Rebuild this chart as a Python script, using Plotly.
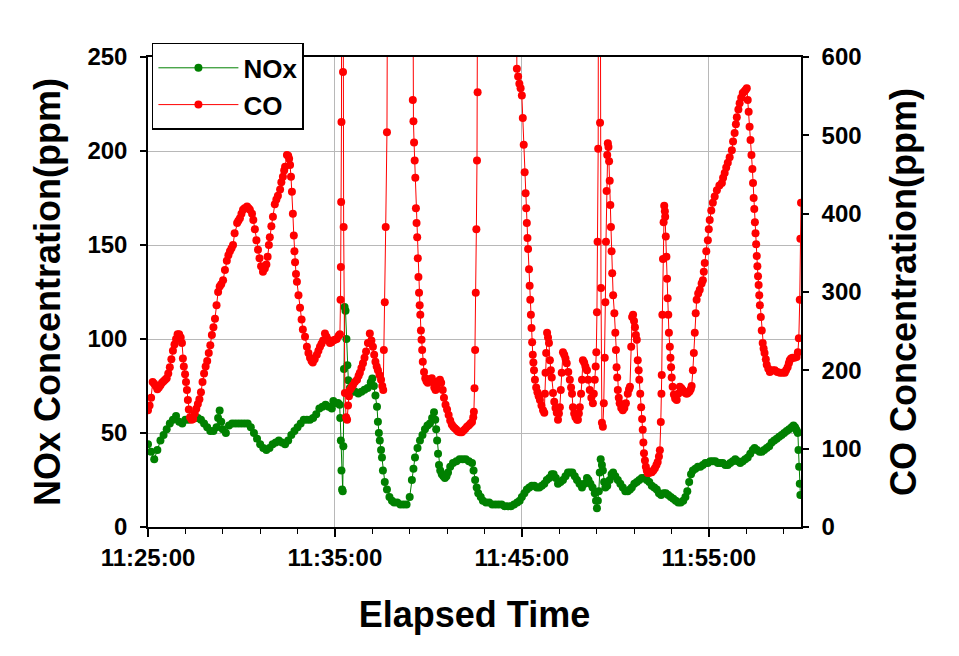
import pandas as pd
import plotly.graph_objects as go

# ---- data: seconds after 11:25:00, values in ppm ----
nox_t = [0,10,20,30,40,50,60,70,80,90,100,110,120,130,140,150,160,170,180,190,200,210,220,225,230,235,240,250,260,270,280,290,300,310,320,330,340,350,360,370,380,390,400,410,420,430,440,450,460,470,480,490,500,510,520,530,540,550,560,570,580,590,595,600,610,615,617,619,621,623,625,627,629,631,634,637,640,643,648,655,665,675,685,695,705,715,720,725,730,735,738,741,744,748,751,754,760,767,775,783,790,800,810,820,830,840,847,852,857,865,873,881,889,897,905,912,918,922,925,928,931,934,938,943,948,953,958,963,970,979,990,1000,1010,1020,1030,1040,1045,1050,1055,1060,1068,1075,1085,1095,1105,1115,1125,1135,1145,1155,1165,1175,1185,1193,1200,1208,1216,1224,1232,1240,1248,1256,1264,1272,1280,1288,1296,1302,1309,1316,1324,1332,1340,1348,1355,1362,1370,1377,1385,1393,1401,1409,1414,1420,1427,1434,1438,1441,1444,1447,1450,1453,1457,1460,1464,1468,1474,1482,1488,1493,1500,1508,1516,1524,1532,1540,1547,1553,1561,1569,1577,1585,1593,1601,1609,1617,1625,1633,1640,1647,1655,1662,1670,1678,1686,1694,1702,1710,1718,1725,1731,1737,1743,1749,1757,1765,1773,1781,1789,1797,1805,1813,1821,1829,1837,1845,1853,1861,1869,1877,1885,1893,1901,1909,1917,1925,1933,1941,1947,1955,1963,1970,1978,1986,1994,2002,2010,2018,2026,2034,2042,2050,2058,2066,2072,2077,2080,2083,2086,2088,2090,2092,2094]
nox_v = [44,40,36,41,46,49,52,55,57,59,56,55,57,57,58,58,58,57,55,53,51,51,53,58,62,56,52,50,54,55,55,55,55,55,55,53,50,47,44,42,41,42,44,45,46,45,44,46,49,51,53,55,57,57,57,58,60,63,64,65,64,63,67,66,66,65,58,46,30,20,19,43,84,117,115,100,86,78,74,72,72,71,72,73,74,77,79,75,70,64,56,50,46,41,37,30,24,20,16,14,13,13,12,12,12,16,25,31,37,42,46,49,52,54,55,58,61,57,52,46,39,33,30,28,27,26,27,29,32,34,35,36,36,36,35,34,30,25,21,18,16,14,13,13,12,12,12,12,11,11,11,12,13,14,16,18,20,21,22,22,21,21,22,23,25,26,28,28,26,23,24,25,27,29,29,29,27,25,23,21,23,26,25,23,21,18,14,10,14,19,29,36,33,30,24,21,22,25,28,29,27,25,23,21,19,19,20,21,23,24,25,26,26,25,24,22,21,20,18,17,18,18,17,16,15,14,13,13,14,16,19,24,28,30,31,32,32,33,34,34,35,35,35,34,34,34,33,33,34,35,36,35,34,35,36,37,39,41,42,41,40,40,41,42,43,45,46,47,48,49,50,51,52,53,54,53,52,51,50,41,32,23,17]

co_t = [0,5,10,15,20,25,30,35,40,45,50,55,60,65,70,75,80,85,90,95,100,105,109,112,115,119,122,125,128,131,135,140,145,150,155,160,165,170,175,180,185,190,195,200,205,210,215,220,225,230,235,241,247,253,258,263,268,273,278,286,290,295,300,305,310,318,323,327,334,338,343,348,353,358,363,369,375,380,384,388,391,396,401,407,412,417,424,428,433,437,440,446,450,453,456,459,462,465,468,470,472,475,478,483,488,493,497,504,510,515,520,525,529,535,542,547,552,557,562,568,573,578,584,589,594,600,606,612,616,618,619,620,621,623,626,628,632,636,639,642,645,648,653,658,664,671,676,680,685,690,695,700,706,712,717,722,726,730,734,738,743,748,752,755,757,760,763,767,775,845,850,852,854,856,858,860,862,864,866,868,870,872,874,876,878,880,882,886,890,894,898,902,906,911,915,919,923,927,932,937,941,946,950,955,960,965,970,975,980,985,990,995,1001,1007,1012,1018,1024,1030,1035,1040,1044,1046,1048,1050,1052,1054,1056,1058,1064,1175,1184,1188,1192,1196,1200,1203,1206,1209,1212,1214,1216,1218,1220,1223,1225,1227,1229,1231,1233,1235,1237,1239,1242,1246,1250,1254,1258,1263,1268,1272,1274,1276,1278,1281,1284,1287,1290,1293,1296,1300,1304,1308,1312,1316,1319,1322,1325,1328,1332,1336,1340,1344,1349,1354,1358,1361,1364,1368,1372,1377,1380,1383,1386,1390,1393,1396,1400,1404,1409,1413,1418,1423,1428,1431,1434,1437,1439,1441,1443,1445,1448,1451,1454,1457,1460,1463,1466,1468,1470,1472,1474,1476,1478,1480,1482,1484,1486,1488,1490,1493,1497,1500,1502,1504,1506,1508,1511,1514,1519,1524,1529,1534,1540,1544,1547,1551,1554,1557,1560,1563,1566,1569,1572,1575,1577,1580,1583,1586,1588,1590,1592,1595,1598,1601,1604,1608,1613,1617,1622,1627,1632,1636,1640,1643,1646,1648,1649,1651,1653,1655,1657,1659,1660,1662,1664,1666,1668,1670,1672,1675,1677,1679,1681,1684,1688,1692,1697,1702,1707,1712,1716,1720,1725,1729,1733,1738,1742,1745,1749,1752,1755,1758,1761,1766,1771,1777,1781,1784,1787,1792,1797,1800,1803,1808,1813,1819,1826,1834,1842,1846,1851,1856,1861,1867,1874,1878,1883,1887,1890,1895,1899,1904,1909,1914,1918,1922,1925,1928,1931,1934,1937,1940,1942,1944,1946,1948,1950,1952,1954,1956,1958,1960,1962,1964,1967,1970,1973,1976,1979,1983,1986,1991,1996,2000,2005,2012,2020,2028,2036,2044,2048,2053,2057,2060,2064,2069,2075,2082,2086,2089,2092,2094,2096]
co_v = [149,155,165,185,183,180,176,178,181,184,186,188,190,196,204,214,225,233,240,246,246,242,235,215,205,195,185,175,162,150,140,137,138,145,151,157,163,172,185,196,205,212,222,232,245,255,266,283,300,307,310,315,328,340,347,352,356,360,375,388,391,394,400,405,407,409,407,405,400,392,380,366,354,343,333,326,330,335,345,360,370,384,396,412,418,423,431,440,447,455,460,475,474,470,462,447,428,400,372,352,338,323,313,296,280,265,252,243,230,222,216,212,210,214,220,225,230,234,238,247,243,239,235,236,238,239,240,244,246,290,332,415,517,1500,581,383,171,140,137,155,167,175,178,181,185,188,193,197,203,209,216,224,235,247,238,230,220,211,205,200,194,188,180,175,226,287,383,504,1500,1500,545,518,491,468,446,407,388,370,343,319,299,283,271,251,239,226,211,198,190,186,184,186,189,190,186,178,175,180,186,188,184,175,165,156,150,143,136,131,128,126,124,122,121,121,123,125,128,130,132,134,140,147,177,226,299,380,468,555,1500,1500,585,575,566,560,551,522,488,453,426,407,388,369,355,329,308,290,271,254,236,220,210,200,188,178,172,167,162,155,149,146,170,197,222,248,242,235,213,200,191,171,160,152,146,137,145,153,175,197,223,220,215,209,198,188,178,170,153,145,140,137,137,145,153,170,188,213,210,205,200,188,175,165,158,170,188,205,223,274,364,483,1500,516,305,133,128,158,216,287,364,429,475,490,485,467,442,411,383,352,324,296,273,248,226,204,191,175,165,158,152,149,152,158,170,176,179,230,268,271,263,255,245,239,213,200,188,170,153,138,124,108,94,85,77,72,69,69,70,70,72,75,79,83,90,98,134,170,194,271,342,389,410,403,396,371,345,317,292,271,248,230,216,204,191,179,169,164,162,170,179,177,175,173,171,170,171,173,176,180,200,222,248,273,290,298,303,311,315,326,337,352,366,380,392,404,414,422,430,436,439,446,452,459,465,472,481,492,503,514,523,533,541,548,554,556,558,560,545,530,511,494,475,457,439,420,406,389,375,361,346,333,320,309,296,283,268,251,235,228,222,214,207,202,198,199,200,200,198,197,197,197,200,204,209,213,215,216,216,217,223,241,290,368,414]

x_ticks_every_ms = 600000
START = pd.Timestamp("2000-01-01 11:25:00")

nox_x = START + pd.to_timedelta(nox_t, unit="s")
co_x = START + pd.to_timedelta(co_t, unit="s")

GREEN = "#008000"
RED = "#ff0000"
FONT = "Arial, 'Liberation Sans', sans-serif"

fig = go.Figure()
fig.add_trace(go.Scatter(
    x=co_x, y=co_v, name="CO", yaxis="y2", mode="lines+markers",
    line=dict(color=RED, width=1), marker=dict(color=RED, size=8),
    legendrank=2,
))
fig.add_trace(go.Scatter(
    x=nox_x, y=nox_v, name="NOx", yaxis="y", mode="lines+markers",
    line=dict(color=GREEN, width=1), marker=dict(color=GREEN, size=8),
    legendrank=1,
))

tick_font = dict(family=FONT, size=24, color="black", weight="bold")
title_font = dict(family=FONT, size=36, color="black", weight="bold")

fig.update_layout(
    width=959, height=656,
    margin=dict(l=148, r=158, t=57, b=129, autoexpand=False),
    paper_bgcolor="white", plot_bgcolor="white",
    showlegend=True,
    legend=dict(
        x=0.006, y=1.03, xanchor="left", yanchor="top",
        bgcolor="white", bordercolor="black", borderwidth=1.5,
        font=dict(family=FONT, size=26, color="black", weight="bold"),
        itemwidth=80, tracegroupgap=0,
    ),
    xaxis=dict(
        type="date",
        range=[START, START + pd.Timedelta(seconds=2096)],
        tick0=START, dtick=x_ticks_every_ms, tickformat="%H:%M:%S",
        ticks="outside", ticklen=8, tickwidth=1.5, tickcolor="black",
        showline=True, linecolor="black", linewidth=1.5, mirror=True,
        showgrid=True, gridcolor="#b8b8b8", gridwidth=1, zeroline=False,
        tickfont=tick_font, automargin=False,
        minor=dict(dtick=120000, tick0=START, ticks="outside", ticklen=5,
                   tickcolor="black", tickwidth=1, showgrid=False),
        title=dict(text="Elapsed Time", font=title_font, standoff=32),
    ),
    yaxis=dict(
        range=[0, 250], dtick=50, tick0=0,
        ticks="outside", ticklen=6, tickwidth=1.5, tickcolor="black",
        showline=True, linecolor="black", linewidth=1.5,
        showgrid=True, gridcolor="#b8b8b8", gridwidth=1, zeroline=False,
        tickfont=tick_font, automargin=False, ticklabelstandoff=8,
        title=dict(text="NOx Concentration(ppm)", font=title_font, standoff=16),
    ),
    yaxis2=dict(
        range=[0, 600], dtick=100, tick0=0, overlaying="y", side="right",
        anchor="x",
        ticks="outside", ticklen=6, tickwidth=1.5, tickcolor="black",
        showline=True, linecolor="black", linewidth=1.5,
        showgrid=False, zeroline=False,
        tickfont=tick_font, automargin=False, ticklabelstandoff=8,
        title=dict(text="CO Concentration(ppm)", font=title_font, standoff=30),
    ),
)

fig.write_html(
    "out.html",
    config={"displayModeBar": False},
    post_script="document.body.style.margin='0px';",
)
